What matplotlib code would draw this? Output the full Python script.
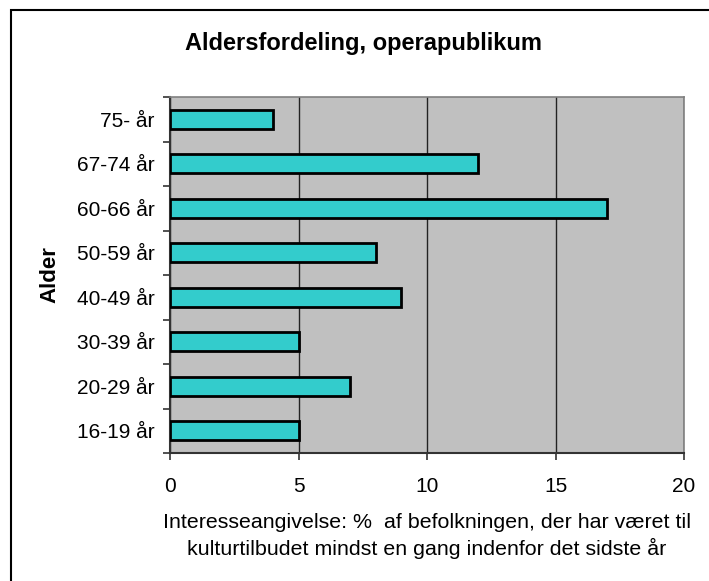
import matplotlib
matplotlib.use("Agg")
import matplotlib.pyplot as plt
import numpy as np
from matplotlib.patches import Rectangle

plt.rcParams['font.family'] = ['Liberation Sans', 'DejaVu Sans']

# data (bottom to top)
aldersgrupper = ['16-19 år', '20-29 år', '30-39 år', '40-49 år',
                 '50-59 år', '60-66 år', '67-74 år', '75- år']
procent = [5, 7, 5, 9, 8, 17, 12, 4]
x_ticks = [0, 5, 10, 15, 20]

W, H = 709, 581
fig = plt.figure(figsize=(W / 100, H / 100), dpi=100)
fig.patch.set_facecolor('white')

# chart-area border (runs off the right and bottom edge like the original)
fig.patches.append(Rectangle((11 / W, -0.1), 1.0, (H - 10) / H + 0.1,
                             transform=fig.transFigure, fill=False,
                             edgecolor='black', linewidth=1.5))

ax = fig.add_axes([170 / W, (H - 453) / H, 514 / W, 356 / H])
ax.set_facecolor('#C0C0C0')

y = np.arange(len(aldersgrupper))
ax.barh(y, procent, height=0.43, color='#33CCCC', edgecolor='black',
        linewidth=2, zorder=3)

ax.set_xlim(0, 20)
ax.set_ylim(-0.5, len(aldersgrupper) - 0.5)
ax.set_xticks(x_ticks)
ax.set_xticklabels([str(t) for t in x_ticks], fontsize=15)
ax.set_yticks(y)
ax.set_yticklabels(aldersgrupper, fontsize=15)
ax.set_yticks(np.arange(len(aldersgrupper) + 1) - 0.5, minor=True)

ax.tick_params(axis='y', which='major', length=0, pad=11)
ax.tick_params(axis='y', which='minor', length=5, width=1.2, color='#333333',
               direction='out')
ax.tick_params(axis='x', which='major', length=5, width=1.2, color='#333333',
               direction='out', pad=12)

ax.grid(axis='x', color='#222222', linewidth=1, zorder=1)
ax.set_axisbelow(True)

for side in ['top', 'right']:
    ax.spines[side].set_color('#808080')
    ax.spines[side].set_linewidth(1.2)
for side in ['left', 'bottom']:
    ax.spines[side].set_color('#333333')
    ax.spines[side].set_linewidth(1.5)

fig.text(185 / W, (H - 50) / H, 'Aldersfordeling, operapublikum',
         fontsize=17, fontweight='bold', ha='left', va='baseline')
fig.text(50 / W, (H - 275) / H, 'Alder', fontsize=16, fontweight='bold',
         rotation=90, ha='center', va='center')
fig.text(427 / W, (H - 528) / H,
         'Interesseangivelse: %  af befolkningen, der har været til',
         fontsize=15.4, ha='center', va='baseline')
fig.text(427 / W, (H - 555) / H,
         'kulturtilbudet mindst en gang indenfor det sidste år',
         fontsize=15.4, ha='center', va='baseline')

fig.savefig('out.png', dpi=100)
